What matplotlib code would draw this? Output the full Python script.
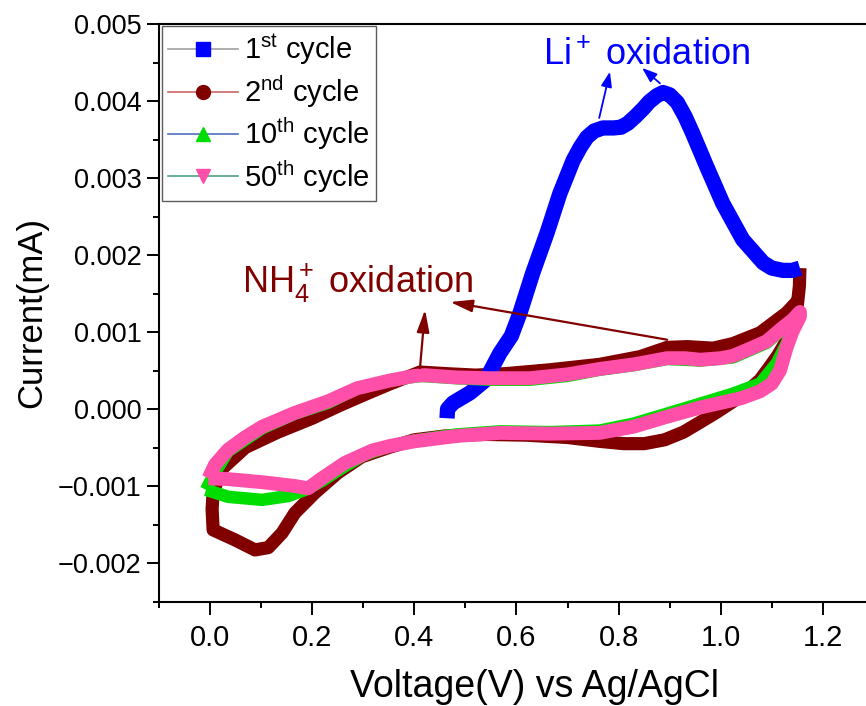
import matplotlib
matplotlib.use("Agg")
import matplotlib.pyplot as plt
from matplotlib.lines import Line2D
from matplotlib.ticker import MultipleLocator, FuncFormatter

plt.rcParams["font.family"] = ["Liberation Sans", "DejaVu Sans"]
plt.rcParams["mathtext.fontset"] = "custom"
plt.rcParams["mathtext.rm"] = "Liberation Sans"
plt.rcParams["mathtext.it"] = "Liberation Sans"
plt.rcParams["mathtext.default"] = "regular"

# 1st cycle (anodic sweep only)
blue_v = [0.464, 0.465, 0.476, 0.509, 0.540, 0.567, 0.590, 0.607, 0.632, 0.660,
          0.685, 0.711, 0.725, 0.738, 0.752, 0.769, 0.790, 0.805, 0.818, 0.833,
          0.848, 0.860, 0.875, 0.887, 0.900, 0.915, 0.930, 0.945, 0.973, 1.004,
          1.043, 1.083, 1.100, 1.122, 1.140, 1.155]
blue_i = [-0.00012, 0.00000, 0.00008, 0.00021, 0.00038, 0.00072, 0.00095, 0.00125, 0.00177, 0.00229,
          0.00280, 0.00323, 0.00340, 0.00353, 0.00361, 0.00365, 0.00365, 0.00366, 0.00371, 0.00380,
          0.00390, 0.00399, 0.00407, 0.00411, 0.00408, 0.00398, 0.00380, 0.00358, 0.00314, 0.00267,
          0.00220, 0.00190, 0.00183, 0.00180, 0.00180, 0.00183]

# 2nd cycle
brown_v = [1.155, 1.154, 1.150, 1.140, 1.128, 1.112, 1.096, 1.077, 1.050, 1.020,
           0.990, 0.960, 0.927, 0.890, 0.850, 0.810, 0.763, 0.700, 0.620, 0.540,
           0.460, 0.400, 0.350, 0.297, 0.250, 0.205, 0.166, 0.141, 0.114, 0.088,
           0.049, 0.006, 0.004, 0.006, 0.023, 0.069, 0.133, 0.200, 0.255, 0.300,
           0.350, 0.411, 0.460, 0.520, 0.580, 0.666, 0.763, 0.842, 0.895, 0.934,
           0.985, 1.024, 1.077, 1.129, 1.150]
brown_i = [0.00183, 0.00160, 0.00135, 0.00110, 0.00088, 0.00070, 0.00055, 0.00038, 0.00022, 0.00008,
           -0.00005, -0.00017, -0.00030, -0.00040, -0.00045, -0.00045, -0.00042, -0.00037, -0.00034, -0.00033,
           -0.00035, -0.00040, -0.00050, -0.00062, -0.00083, -0.00109, -0.00135, -0.00161, -0.00180, -0.00183,
           -0.00170, -0.00157, -0.00130, -0.00108, -0.00078, -0.00050, -0.00030, -0.00012, 0.00005, 0.00018,
           0.00032, 0.00048, 0.00046, 0.00044, 0.00046, 0.00051, 0.00058, 0.00068, 0.00080, 0.00081,
           0.00079, 0.00085, 0.00099, 0.00125, 0.00140]

# 10th cycle
green_v = [-0.008, 0.010, 0.035, 0.102, 0.166, 0.231, 0.288, 0.352, 0.411, 0.483,
           0.548, 0.626, 0.700, 0.763, 0.830, 0.895, 0.960, 1.024, 1.090, 1.141,
           1.155, 1.150, 1.129, 1.110, 1.077, 1.024, 0.960, 0.895, 0.829, 0.763,
           0.666, 0.568, 0.483, 0.400, 0.352, 0.300, 0.255, 0.220, 0.186, 0.153,
           0.102, 0.035, -0.008]
green_i = [-0.00105, -0.00082, -0.00055, -0.00025, -0.00006, 0.00008, 0.00027, 0.00037, 0.00043, 0.00040,
           0.00038, 0.00038, 0.00043, 0.00051, 0.00057, 0.00065, 0.00063, 0.00067, 0.00086, 0.00115,
           0.00126, 0.00118, 0.00085, 0.00060, 0.00033, 0.00020, 0.00007, -0.00006, -0.00019, -0.00028,
           -0.00030, -0.00029, -0.00033, -0.00041, -0.00048, -0.00060, -0.00078, -0.00093, -0.00105, -0.00113,
           -0.00118, -0.00114, -0.00105]

# 50th cycle
pink_v = [-0.003, 0.010, 0.035, 0.068, 0.102, 0.166, 0.231, 0.288, 0.352, 0.400,
          0.420, 0.483, 0.548, 0.626, 0.700, 0.763, 0.830, 0.895, 0.930, 0.960,
          1.000, 1.024, 1.063, 1.090, 1.120, 1.141, 1.155, 1.155, 1.140, 1.129,
          1.116, 1.100, 1.077, 1.040, 1.000, 0.960, 0.895, 0.829, 0.763, 0.666,
          0.568, 0.483, 0.400, 0.352, 0.317, 0.264, 0.219, 0.192, 0.166, 0.102,
          0.035, -0.003]
pink_i = [-0.00090, -0.00072, -0.00053, -0.00037, -0.00023, -0.00005, 0.00010, 0.00027, 0.00037, 0.00043,
          0.00044, 0.00041, 0.00040, 0.00040, 0.00045, 0.00052, 0.00058, 0.00066, 0.00066, 0.00064,
          0.00066, 0.00069, 0.00080, 0.00088, 0.00105, 0.00116, 0.00126, 0.00120, 0.00100, 0.00080,
          0.00050, 0.00033, 0.00023, 0.00014, 0.00008, 0.00002, -0.00010, -0.00023, -0.00031, -0.00032,
          -0.00031, -0.00035, -0.00042, -0.00048, -0.00054, -0.00070, -0.00090, -0.00103, -0.00100, -0.00095,
          -0.00091, -0.00090]

labels = [r"1$^{st}$ cycle", r"2$^{nd}$ cycle", r"10$^{th}$ cycle", r"50$^{th}$ cycle"]
colors = ["#0000ff", "#800000", "#00dd00", "#ff4fa8"]
handle_line_colors = ["#a0a0a0", "#cc6666", "#5070c0", "#50a080"]
markers = ["s", "o", "^", "v"]

fig = plt.figure(figsize=(8.66, 7.06), dpi=100)
ax = fig.add_axes([0.1836, 0.148, 0.8256, 0.818])

style = dict(solid_capstyle="butt", solid_joinstyle="round")
ax.plot(brown_v, brown_i, color=colors[1], lw=9.5, zorder=2, **style)
ax.plot(blue_v, blue_i, color=colors[0], lw=11, zorder=3, **style)
ax.plot(green_v, green_i, color=colors[2], lw=9, zorder=4, **style)
ax.plot(pink_v, pink_i, color=colors[3], lw=10, zorder=5, **style)

ax.set_xlim(-0.1, 1.3)
ax.set_ylim(-0.0025, 0.005)
ax.xaxis.set_major_locator(MultipleLocator(0.2))
ax.xaxis.set_minor_locator(MultipleLocator(0.1))
ax.yaxis.set_major_locator(MultipleLocator(0.001))
ax.yaxis.set_minor_locator(MultipleLocator(0.0005))
ax.xaxis.set_major_formatter(FuncFormatter(lambda v, p: f"{v:.1f}".replace("-", "\u2212")))
ax.yaxis.set_major_formatter(FuncFormatter(lambda v, p: f"{v:.3f}".replace("-", "\u2212")))
ax.tick_params(which="major", direction="out", length=9, width=1.4, labelsize=19.5)
ax.tick_params(which="minor", direction="out", length=4.5, width=1.4)
ax.tick_params(axis="x", pad=7, labelsize=21)
for sp in ax.spines.values():
    sp.set_linewidth(1.5)

fig.text(534 / 866, 9 / 706, "Voltage(V) vs Ag/AgCl", fontsize=27,
         ha="center", va="baseline")
fig.text(32 / 866, 1 - 313 / 706, "Current(mA)", fontsize=25, rotation=90,
         ha="center", va="center")

# annotations
ax.text(0.652, 0.00447, r"Li$^+$ oxidation", color="#0000ff", fontsize=26)
ax.text(0.062, 0.00151, r"NH$_4^+$ oxidation", color="#800000", fontsize=26)
blue_arrow = dict(arrowstyle="-|>,head_length=0.6,head_width=0.22", color="#0000ff",
                  lw=1.3, mutation_scale=15, shrinkA=0, shrinkB=0)
brown_arrow = dict(arrowstyle="-|>,head_length=0.9,head_width=0.25", color="#800000",
                   lw=1.6, mutation_scale=15, shrinkA=0, shrinkB=0)
ax.annotate("", xy=(0.783, 0.00438), xytext=(0.762, 0.00378), arrowprops=blue_arrow, zorder=6)
ax.annotate("", xy=(0.846, 0.00443), xytext=(0.881, 0.00423), arrowprops=blue_arrow, zorder=6)
ax.annotate("", xy=(0.421, 0.00129), xytext=(0.411, 0.00053), arrowprops=brown_arrow, zorder=6)
ax.annotate("", xy=(0.470, 0.00139), xytext=(0.895, 0.00090), arrowprops=brown_arrow, zorder=6)

handles = [Line2D([], [], color=handle_line_colors[k], lw=1.2, marker=markers[k],
                  markersize=10, markerfacecolor=colors[k], markeredgecolor=colors[k])
           for k in range(4)]
leg = ax.legend(handles, labels, loc="upper left", bbox_to_anchor=(0.004, 0.997),
                borderaxespad=0, fontsize=21, frameon=True, fancybox=False,
                edgecolor="#333333", handlelength=2.4, handletextpad=0.2,
                labelspacing=0.2, borderpad=0.22)
leg.get_frame().set_linewidth(1.0)

fig.savefig("out.png", dpi=100)
